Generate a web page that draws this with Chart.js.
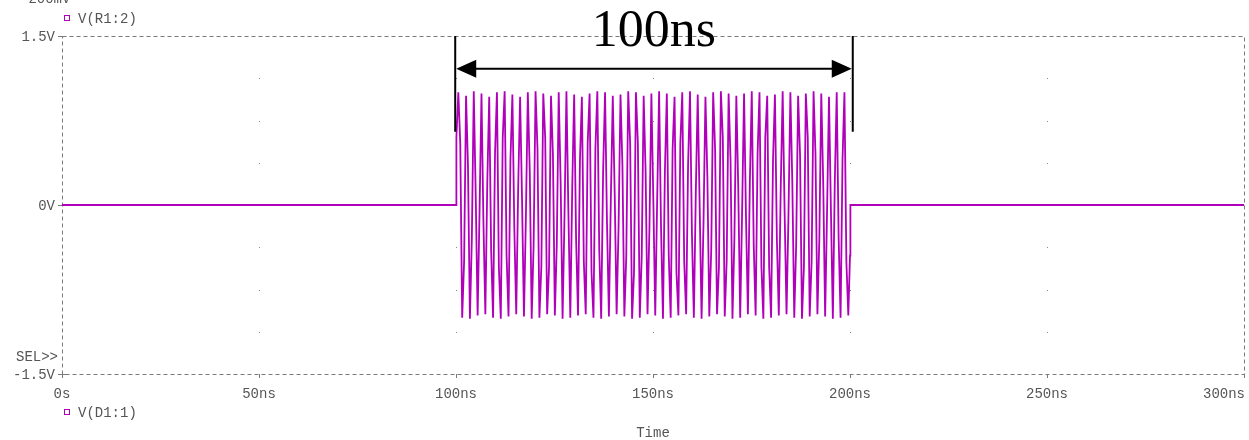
<!DOCTYPE html>
<html lang="en">
<head>
  <meta charset="UTF-8" />
  <title>V(R1:2) burst - transient</title>
  <style>
    html, body { margin: 0; padding: 0; background: #fff; }
    #wrap { width: 1249px; height: 440px; }
  </style>
</head>
<body>
  <div id="wrap">
    <canvas id="waveChart" width="1249" height="440"></canvas>
  </div>

  <script src="https://cdn.jsdelivr.net/npm/chart.js"></script>
  <script>
    // axis ticks
    const xTicksNs = [0, 50, 100, 150, 200, 250, 300];
    const xTickLabels = ['0s', '50ns', '100ns', '150ns', '200ns', '250ns', '300ns'];
    const yTicksV = [1.5, 0, -1.5];
    const yTickLabels = ['1.5V', '0V', '-1.5V'];
    const gridDotsV = [1.125, 0.75, 0.375, -0.375, -0.75, -1.125];

    // burst samples, one entry per cycle
    const burstStartNs = 100.1;
    const sampleStepNs = 0.49;
    const burstRises = [0.60, -0.50, -0.30, -0.05, 0.20, 0.45, 0.60, 0.40, 0.15, -0.10,
      -0.35, -0.55, -0.55, -0.35, -0.10, 0.15, 0.40, 0.55, 0.50, 0.30,
      0.05, -0.20, -0.45, -0.60, -0.45, -0.20, 0.05, 0.30, 0.50, 0.55,
      0.35, 0.10, -0.15, -0.40, -0.55, -0.50, -0.30, -0.05, 0.20, 0.45,
      0.60, 0.40, 0.15, -0.10, -0.35, -0.55, -0.50, -0.30, -0.05, 0.20, 0.40];
    const burstPeaks = [1.00, 0.97, 1.01, 0.99, 0.96, 1.00, 1.01, 0.98, 0.96, 1.00,
      1.01, 0.99, 0.97, 1.00, 1.01, 0.98, 0.96, 0.99, 1.01, 1.00,
      0.97, 0.98, 1.01, 1.00, 0.97, 0.99, 1.01, 0.99, 0.96, 1.00,
      1.01, 0.98, 0.96, 1.00, 1.01, 0.99, 0.97, 0.99, 1.01, 1.00,
      0.97, 0.98, 1.01, 1.00, 0.97, 0.99, 1.01, 0.99, 0.96, 1.00, 1.00];
    const burstFalls = [0.55, 0.35, 0.10, -0.15, -0.40, -0.55, -0.45, -0.20, 0.05, 0.30,
      0.50, 0.60, 0.45, 0.20, -0.05, -0.30, -0.50, -0.60, -0.40, -0.15,
      0.10, 0.35, 0.55, 0.55, 0.30, 0.05, -0.20, -0.45, -0.60, -0.50,
      -0.25, 0.00, 0.25, 0.50, 0.60, 0.40, 0.15, -0.10, -0.35, -0.55,
      -0.55, -0.30, -0.05, 0.20, 0.45, 0.60, 0.45, 0.20, -0.05, -0.30, -0.50];
    const burstTroughs = [-1.00, -1.01, -0.98, -0.97, -1.00, -1.01, -0.99, -0.97, -0.99, -1.01,
      -1.00, -0.97, -0.98, -1.01, -1.00, -0.98, -0.97, -1.00, -1.01, -0.99,
      -0.97, -0.99, -1.01, -1.00, -0.97, -0.98, -1.01, -1.00, -0.98, -0.97,
      -1.00, -1.01, -0.99, -0.97, -0.99, -1.01, -1.00, -0.97, -0.98, -1.01,
      -1.00, -0.98, -0.97, -1.00, -1.01, -0.99, -0.97, -0.99, -1.01, -1.00, -0.98];

    // flat parts before / after the burst
    const leadIn = [[0, 0], [100, 0]];
    const tailOut = [[200.0, -0.45], [200.1, 0], [300, 0]];

    // annotation (ns / V)
    const spanStartNs = 99.8;
    const spanEndNs = 200.7;
    const spanBarBottomV = 0.65;
    const spanArrowV = 1.21;

    const traceColor = 'rgb(176, 0, 186)';
    const axisGray = '#7a7a7a';
    const textGray = '#555';
    const monoFont = '14px "Liberation Mono", "DejaVu Sans Mono", monospace';

    // build the point list
    const points = leadIn.map(p => ({ x: p[0], y: p[1] }));
    burstPeaks.forEach((pk, i) => {
      const seq = [burstRises[i], pk, burstFalls[i], burstTroughs[i]];
      seq.forEach((v, j) => {
        points.push({ x: burstStartNs + (i * 4 + j) * sampleStepNs, y: v });
      });
    });
    tailOut.forEach(p => points.push({ x: p[0], y: p[1] }));

    const pspiceDecor = {
      id: 'pspiceDecor',
      beforeDatasetsDraw(chart) {
        const { ctx, chartArea: a, scales: { x, y } } = chart;
        ctx.save();
        // dashed frame
        ctx.strokeStyle = axisGray;
        ctx.lineWidth = 1;
        ctx.setLineDash([4, 3]);
        ctx.strokeRect(Math.round(a.left) + 0.5, Math.round(a.top) + 0.5,
          Math.round(a.right - a.left), Math.round(a.bottom - a.top));
        ctx.setLineDash([]);

        // tick marks
        ctx.beginPath();
        yTicksV.forEach(v => {
          const py = Math.round(y.getPixelForValue(v)) + 0.5;
          ctx.moveTo(a.left - 4, py);
          ctx.lineTo(a.left + 4, py);
        });
        xTicksNs.forEach(t => {
          const px = Math.round(x.getPixelForValue(t)) + 0.5;
          ctx.moveTo(px, a.bottom);
          ctx.lineTo(px, a.bottom + 4);
        });
        ctx.stroke();

        // grid dots
        ctx.fillStyle = '#888';
        xTicksNs.slice(1, -1).forEach(t => {
          const px = Math.round(x.getPixelForValue(t));
          gridDotsV.forEach(v => {
            ctx.fillRect(px, Math.round(y.getPixelForValue(v)), 1, 1);
          });
        });
        ctx.restore();
      },
      afterDatasetsDraw(chart) {
        const { ctx, chartArea: a, scales: { x, y } } = chart;
        ctx.save();
        ctx.font = monoFont;
        ctx.fillStyle = textGray;
        ctx.textBaseline = 'middle';

        // y tick labels
        ctx.textAlign = 'right';
        yTicksV.forEach((v, i) => {
          ctx.fillText(yTickLabels[i], a.left - 7, y.getPixelForValue(v) + 1);
        });
        ctx.fillText('SEL>>', a.left - 4, 357);

        // x tick labels (last one kept inside the canvas)
        xTicksNs.forEach((t, i) => {
          const w = ctx.measureText(xTickLabels[i]).width;
          let px = x.getPixelForValue(t);
          px = Math.min(px, chart.width - 4 - w / 2);
          ctx.textAlign = 'center';
          ctx.fillText(xTickLabels[i], px, a.bottom + 20);
        });
        ctx.textAlign = 'center';
        ctx.fillText('Time', (a.left + a.right) / 2, 433);

        // clipped label at the very top
        ctx.textAlign = 'left';
        ctx.textBaseline = 'alphabetic';
        ctx.fillText('-200mV', 20, 3);

        // trace legends
        ctx.textBaseline = 'middle';
        [['V(R1:2)', 18], ['V(D1:1)', 412]].forEach(([txt, py]) => {
          ctx.strokeStyle = traceColor;
          ctx.lineWidth = 1;
          ctx.strokeRect(64.5, py - 2.5, 5, 5);
          ctx.fillStyle = textGray;
          ctx.fillText(txt, 78, py + 1);
        });

        // 100ns span marker
        const x1 = x.getPixelForValue(spanStartNs);
        const x2 = x.getPixelForValue(spanEndNs);
        const yTop = a.top;
        const yBot = y.getPixelForValue(spanBarBottomV);
        const yArr = y.getPixelForValue(spanArrowV);
        ctx.strokeStyle = '#000';
        ctx.fillStyle = '#000';
        ctx.lineWidth = 2;
        ctx.beginPath();
        ctx.moveTo(x1, yTop); ctx.lineTo(x1, yBot);
        ctx.moveTo(x2, yTop); ctx.lineTo(x2, yBot);
        ctx.moveTo(x1 + 10, yArr); ctx.lineTo(x2 - 10, yArr);
        ctx.stroke();
        ctx.beginPath();
        ctx.moveTo(x1 + 1, yArr); ctx.lineTo(x1 + 21, yArr - 9); ctx.lineTo(x1 + 21, yArr + 9);
        ctx.closePath();
        ctx.moveTo(x2 - 1, yArr); ctx.lineTo(x2 - 21, yArr - 9); ctx.lineTo(x2 - 21, yArr + 9);
        ctx.closePath();
        ctx.fill();

        ctx.font = '52px "Liberation Serif", "Times New Roman", serif';
        ctx.textAlign = 'center';
        ctx.textBaseline = 'alphabetic';
        ctx.fillText('100ns', (x1 + x2) / 2, 46);
        ctx.restore();
      }
    };

    new Chart(document.getElementById('waveChart').getContext('2d'), {
      type: 'line',
      data: {
        datasets: [{
          label: 'V(R1:2)',
          data: points,
          borderColor: traceColor,
          borderWidth: 1.8,
          pointRadius: 0,
          tension: 0,
          fill: false
        }]
      },
      options: {
        responsive: false,
        animation: false,
        layout: { padding: { left: 62, right: 5, top: 36, bottom: 66 } },
        plugins: { legend: { display: false }, tooltip: { enabled: false } },
        scales: {
          x: { type: 'linear', min: 0, max: 300, display: false },
          y: { type: 'linear', min: -1.5, max: 1.5, display: false }
        }
      },
      plugins: [pspiceDecor]
    });
  </script>
</body>
</html>
